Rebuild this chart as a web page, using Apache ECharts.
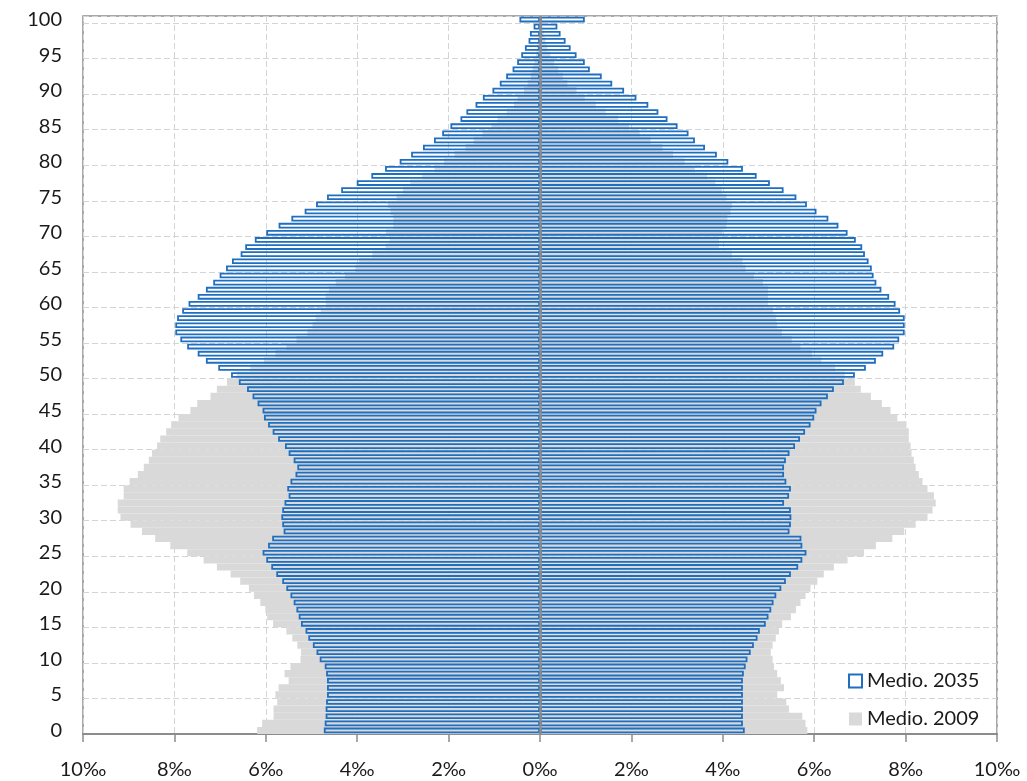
<!DOCTYPE html>
<html>

<head>
    <meta charset="utf-8">
    <title>Pirámide de población</title>
</head>

<body style="margin:0">
    <div id="main" style="width: 1027px;height:781px;"></div>

    <script src="https://cdn.jsdelivr.net/npm/echarts@6/dist/echarts.min.js"></script>
    <script>
        // edades 0..100
        var edades = [];
        for (var i = 0; i <= 100; i++) edades.push(String(i));

        var xTicks = [-10, -8, -6, -4, -2, 0, 2, 4, 6, 8, 10];

        // ‰ de la población, hombres a la izquierda, mujeres a la derecha
        var hombres2009 = [6.19, 6.08, 5.83, 5.83, 5.75, 5.79, 5.72, 5.50, 5.59, 5.46,
            5.24, 5.23, 5.31, 5.42, 5.55, 5.84, 5.97, 6.01, 6.12, 6.26,
            6.37, 6.56, 6.77, 7.07, 7.36, 7.72, 8.09, 8.42, 8.71, 8.96,
            9.18, 9.24, 9.24, 9.11, 9.11, 8.98, 8.80, 8.67, 8.56, 8.49,
            8.38, 8.31, 8.18, 8.07, 7.91, 7.65, 7.50, 7.21, 7.07, 6.85,
            6.64, 6.34, 6.04, 5.79, 5.55, 5.33, 5.09, 4.98, 4.91, 4.80,
            4.69, 4.69, 4.62, 4.47, 4.27, 4.04, 3.96, 3.67, 3.38, 3.29,
            3.37, 3.21, 3.21, 3.27, 3.33, 3.14, 3.00, 2.84, 2.58, 2.31,
            2.10, 1.87, 1.63, 1.45, 1.26, 1.06, 0.93, 0.73, 0.57, 0.49,
            0.35, 0.27, 0.20, 0.16, 0.12, 0.09, 0.07, 0.05, 0.03, 0.02, 0.01];

        var mujeres2009 = [5.85, 5.81, 5.74, 5.45, 5.39, 5.19, 5.34, 5.27, 5.19, 5.12,
            5.09, 5.05, 5.09, 5.16, 5.23, 5.30, 5.49, 5.60, 5.70, 5.81,
            5.92, 6.07, 6.21, 6.43, 6.73, 7.09, 7.35, 7.71, 7.97, 8.22,
            8.48, 8.59, 8.66, 8.62, 8.48, 8.37, 8.29, 8.22, 8.18, 8.13,
            8.11, 8.07, 8.07, 8.02, 7.82, 7.67, 7.48, 7.24, 7.02, 6.89,
            6.67, 6.46, 6.16, 5.95, 5.70, 5.51, 5.29, 5.19, 5.17, 5.10,
            4.99, 4.99, 4.99, 4.88, 4.68, 4.50, 4.43, 4.20, 3.92, 3.92,
            3.99, 4.08, 4.10, 4.17, 4.20, 4.08, 3.98, 3.84, 3.66, 3.39,
            3.17, 2.91, 2.68, 2.42, 2.18, 1.95, 1.71, 1.44, 1.22, 0.98,
            0.80, 0.60, 0.50, 0.40, 0.31, 0.23, 0.16, 0.12, 0.08, 0.05, 0.03];

        var hombres2035 = [4.73, 4.71, 4.69, 4.69, 4.68, 4.66, 4.66, 4.66, 4.68, 4.71,
            4.82, 4.89, 4.97, 5.07, 5.13, 5.23, 5.28, 5.33, 5.39, 5.46,
            5.55, 5.64, 5.77, 5.88, 5.99, 6.07, 5.95, 5.86, 5.61, 5.64,
            5.66, 5.64, 5.59, 5.50, 5.53, 5.46, 5.35, 5.31, 5.39, 5.50,
            5.58, 5.73, 5.85, 5.95, 6.04, 6.07, 6.18, 6.29, 6.41, 6.59,
            6.76, 7.04, 7.31, 7.49, 7.72, 7.87, 7.98, 7.98, 7.94, 7.83,
            7.69, 7.49, 7.31, 7.15, 7.01, 6.87, 6.74, 6.55, 6.45, 6.24,
            5.99, 5.72, 5.44, 5.15, 4.90, 4.66, 4.35, 4.01, 3.69, 3.39,
            3.07, 2.82, 2.56, 2.32, 2.14, 1.96, 1.74, 1.61, 1.41, 1.25,
            1.04, 0.88, 0.74, 0.60, 0.50, 0.41, 0.33, 0.25, 0.22, 0.14, 0.45];

        var mujeres2035 = [4.48, 4.44, 4.44, 4.44, 4.44, 4.44, 4.44, 4.44, 4.46, 4.50,
            4.54, 4.61, 4.68, 4.76, 4.81, 4.94, 5.00, 5.06, 5.11, 5.17,
            5.28, 5.38, 5.49, 5.65, 5.74, 5.83, 5.74, 5.72, 5.46, 5.49,
            5.50, 5.49, 5.34, 5.45, 5.49, 5.39, 5.34, 5.34, 5.38, 5.46,
            5.58, 5.69, 5.80, 5.92, 6.00, 6.05, 6.16, 6.30, 6.43, 6.65,
            6.89, 7.13, 7.35, 7.51, 7.75, 7.86, 7.98, 7.98, 7.98, 7.88,
            7.78, 7.64, 7.47, 7.36, 7.30, 7.26, 7.19, 7.11, 7.05, 6.91,
            6.73, 6.53, 6.31, 6.05, 5.84, 5.61, 5.33, 5.03, 4.74, 4.44,
            4.12, 3.87, 3.61, 3.39, 3.25, 3.01, 2.79, 2.59, 2.37, 2.11,
            1.84, 1.58, 1.35, 1.09, 0.98, 0.80, 0.67, 0.56, 0.45, 0.38, 0.98];

        var azul = '#1f6fc1';
        var gris = '#d9d9d9';
        var marco = '#8c8c8c';
        var fuente = 'Lato';

        function neg(arr) {
            return arr.map(function (v) { return -v; });
        }

        var myChart = echarts.init(document.getElementById('main'));

        var option = {
            animation: false,
            backgroundColor: '#fff',
            textStyle: { fontFamily: fuente },
            grid: {
                left: 83, right: 30, top: 16, bottom: 47,
                show: true, borderColor: marco, borderWidth: 1.5
            },
            legend: {
                orient: 'vertical',
                left: 843, top: 666,
                itemWidth: 13, itemHeight: 13, itemGap: 18,
                textStyle: { fontSize: 20, color: '#1a1a1a', fontFamily: fuente },
                data: [
                    { name: 'Medio. 2035', icon: 'rect', itemStyle: { color: '#fff', borderColor: azul, borderWidth: 2 } },
                    { name: 'Medio. 2009', icon: 'rect', itemStyle: { color: gris, borderWidth: 0 } }
                ]
            },
            xAxis: {
                type: 'value',
                min: xTicks[0],
                max: xTicks[xTicks.length - 1],
                interval: 2,
                axisLine: { show: true, onZero: false, lineStyle: { color: marco, width: 2 } },
                axisTick: { show: true, length: 8, lineStyle: { color: marco, width: 1.5 } },
                axisLabel: {
                    margin: 26, fontSize: 20, color: '#1a1a1a', fontFamily: fuente,
                    formatter: function (v) { return Math.abs(v) + '‰'; }
                },
                splitLine: { show: true, lineStyle: { color: '#d4d4d4', type: [6, 3], width: 1 } }
            },
            yAxis: [{
                type: 'category',
                data: edades,
                axisLine: { show: false },
                axisTick: { show: false },
                axisLabel: { interval: 4, margin: 21, fontSize: 20, color: '#1a1a1a', fontFamily: fuente },
                splitLine: { show: true, interval: 4, lineStyle: { color: '#d4d4d4', type: [6, 3], width: 1 } }
            }, {
                type: 'category',
                data: edades,
                show: false
            }],
            series: [{
                name: 'Medio. 2009',
                type: 'bar',
                yAxisIndex: 0,
                barWidth: '100%',
                barGap: '-100%',
                itemStyle: { color: gris },
                data: neg(hombres2009)
            }, {
                name: 'Medio. 2009',
                type: 'bar',
                yAxisIndex: 0,
                barWidth: '100%',
                barGap: '-100%',
                itemStyle: { color: gris },
                data: mujeres2009
            }, {
                name: 'Medio. 2035',
                type: 'bar',
                yAxisIndex: 1,
                barWidth: '80%',
                barGap: '-100%',
                itemStyle: { color: 'rgba(0,0,0,0)', borderColor: azul, borderWidth: 1.8 },
                data: neg(hombres2035)
            }, {
                name: 'Medio. 2035',
                type: 'bar',
                yAxisIndex: 1,
                barWidth: '80%',
                barGap: '-100%',
                itemStyle: { color: 'rgba(0,0,0,0)', borderColor: azul, borderWidth: 1.8 },
                data: mujeres2035,
                // línea central en 0‰
                markLine: {
                    silent: true,
                    symbol: 'none',
                    label: { show: false },
                    lineStyle: { color: marco, width: 2.5, type: 'solid' },
                    data: [{ xAxis: 0 }]
                }
            }]
        };

        myChart.setOption(option);
    </script>
</body>

</html>
